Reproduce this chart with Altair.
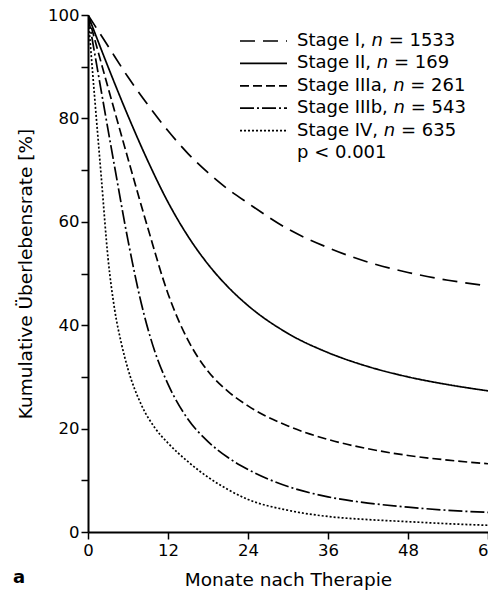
import altair as alt
import pandas as pd

stages = ["Stage I", "Stage II", "Stage IIIa", "Stage IIIb", "Stage IV"]
n_values = [1533, 169, 261, 543, 635]
p_text = "p < 0.001"

months_I = [0, 3, 6, 9, 12, 15, 18, 21, 24, 30, 36, 42, 48, 54, 60]
surv_I = [100, 94, 88, 82.6, 77.6, 73.2, 69.5, 66.3, 63.6, 58.6, 55.0, 52.2, 50.2, 48.7, 47.6]
months_II = [0, 3, 6, 9, 12, 15, 18, 21, 24, 30, 36, 42, 48, 54, 60]
surv_II = [100, 90, 80.5, 71.7, 63.8, 57.2, 51.8, 47.4, 43.8, 38.4, 34.7, 32.0, 30.0, 28.5, 27.3]
months_IIIa = [0, 3, 6, 9, 12, 15, 18, 21, 24, 30, 36, 42, 48, 54, 60]
surv_IIIa = [100, 86, 72.2, 58.7, 46.1, 37.1, 31.1, 27.2, 24.4, 20.5, 17.9, 16.1, 14.8, 13.9, 13.2]
months_IIIb = [0, 2, 4, 6, 8, 10, 12, 15, 18, 21, 24, 30, 36, 42, 48, 54, 60]
surv_IIIb = [100, 85.2, 70.6, 56.4, 44.2, 35.0, 28.6, 21.8, 17.5, 14.4, 12.1, 8.8, 6.8, 5.6, 4.8, 4.2, 3.8]
months_IV = [0, 1, 2, 3, 4, 5, 6, 8, 10, 12, 15, 18, 21, 24, 30, 36, 42, 48, 54, 60]
surv_IV = [100, 84, 68.5, 53, 43, 36.5, 31.5, 24.6, 20.2, 17.2, 13.6, 10.6, 8.2, 6.3, 4.2, 3.0, 2.4, 2.0, 1.6, 1.3]

series = [
    (months_I, surv_I),
    (months_II, surv_II),
    (months_IIIa, surv_IIIa),
    (months_IIIb, surv_IIIb),
    (months_IV, surv_IV),
]

rows = []
for st, (mx, sy) in zip(stages, series):
    for m, s in zip(mx, sy):
        rows.append({"stage": st, "month": m, "surv": s})
curves = pd.DataFrame(rows)

dashes = [[15, 8], [1, 0], [9, 4], [14, 3, 2, 3], [2, 2]]
FONT = "DejaVu Sans"
LEG_SIZE = 18

# approximate DejaVu Sans advance widths (em)
ADV = {"S": .635, "t": .392, "a": .613, "g": .635, "e": .615, " ": .318, "I": .295,
       ",": .318, "V": .684, "b": .635, "n": .634, "=": .838}


def text_w(s, size):
    return sum(ADV.get(c, .636) for c in s) * size


dash_scale = alt.Scale(domain=stages, range=dashes)

lines = alt.Chart(curves).mark_line(
    color="black", strokeWidth=1.7, interpolate="monotone", clip=True
).encode(
    x=alt.X(
        "month:Q",
        scale=alt.Scale(domain=[0, 60], nice=False),
        axis=alt.Axis(values=[0, 12, 24, 36, 48, 60], title="Monate nach Therapie",
                      titleY=47, titleBaseline="middle", labelFlush=False),
    ),
    y=alt.Y(
        "surv:Q",
        scale=alt.Scale(domain=[0, 100], nice=False),
        axis=alt.Axis(
            values=list(range(0, 101, 10)),
            labelExpr="datum.value % 20 == 0 ? datum.label : ''",
            title="Kumulative Überlebensrate [%]",
            titleX=-63, titleBaseline="middle",
        ),
    ),
    strokeDash=alt.StrokeDash("stage:N", scale=dash_scale, legend=None),
    detail="stage:N",
)

# custom legend
X0_LINE, X1_LINE, X_TEXT = 152, 199, 209
leg = pd.DataFrame({
    "stage": stages,
    "pre": [f"{s}," for s in stages],
    "nn": ["n"] * len(stages),
    "suf": [f"= {n}" for n in n_values],
    "row": list(range(len(stages))),
})
leg["ly"] = 26 + leg["row"] * 22.4
leg["px"] = X_TEXT
leg["nx"] = [X_TEXT + text_w(f"{s}, ", LEG_SIZE) for s in stages]
leg["sx"] = leg["nx"] + text_w("n ", LEG_SIZE)

leg_lines = alt.Chart(leg).mark_rule(color="black", strokeWidth=1.7).encode(
    x=alt.value(X0_LINE),
    x2=alt.value(X1_LINE),
    y=alt.Y("ly:Q", scale=None, axis=None),
    strokeDash=alt.StrokeDash("stage:N", scale=dash_scale, legend=None),
)


def leg_text(field, xfield, style="normal"):
    return alt.Chart(leg).mark_text(
        align="left", baseline="middle", font=FONT, fontSize=LEG_SIZE,
        fontStyle=style, color="black"
    ).encode(
        x=alt.X(f"{xfield}:Q", scale=None, axis=None),
        y=alt.Y("ly:Q", scale=None, axis=None),
        text=f"{field}:N",
    )


p_df = pd.DataFrame({"t": [p_text], "ly": [26 + 5 * 22.4]})
p_mark = alt.Chart(p_df).mark_text(
    align="left", baseline="middle", font=FONT, fontSize=LEG_SIZE, color="black"
).encode(x=alt.value(X_TEXT), y=alt.Y("ly:Q", scale=None, axis=None), text="t:N")

a_df = pd.DataFrame({"t": ["a"]})
a_mark = alt.Chart(a_df).mark_text(
    align="left", baseline="middle", font=FONT, fontSize=18, fontWeight="bold", color="black"
).encode(x=alt.value(-75), y=alt.value(563), text="t:N")

chart = alt.layer(
    lines, leg_lines,
    leg_text("pre", "px"), leg_text("nn", "nx", "italic"), leg_text("suf", "sx"),
    p_mark, a_mark,
).properties(
    width=400,
    height=517,
    autosize=alt.AutoSizeParams(type="none"),
    padding={"left": 80, "top": 7, "right": 0, "bottom": 59},
).configure_view(stroke=None).configure_axis(
    domainColor="black",
    domainWidth=2,
    tickColor="black",
    tickWidth=1.5,
    tickSize=7,
    grid=False,
    labelFont=FONT,
    labelFontSize=16.5,
    labelColor="black",
    titleFont=FONT,
    titleFontSize=18.5,
    titleFontWeight="normal",
    titleColor="black",
).configure_axisX(labelPadding=3).configure_axisY(labelPadding=2)

chart.save("out.html", embed_options={"renderer": "svg", "actions": False})
